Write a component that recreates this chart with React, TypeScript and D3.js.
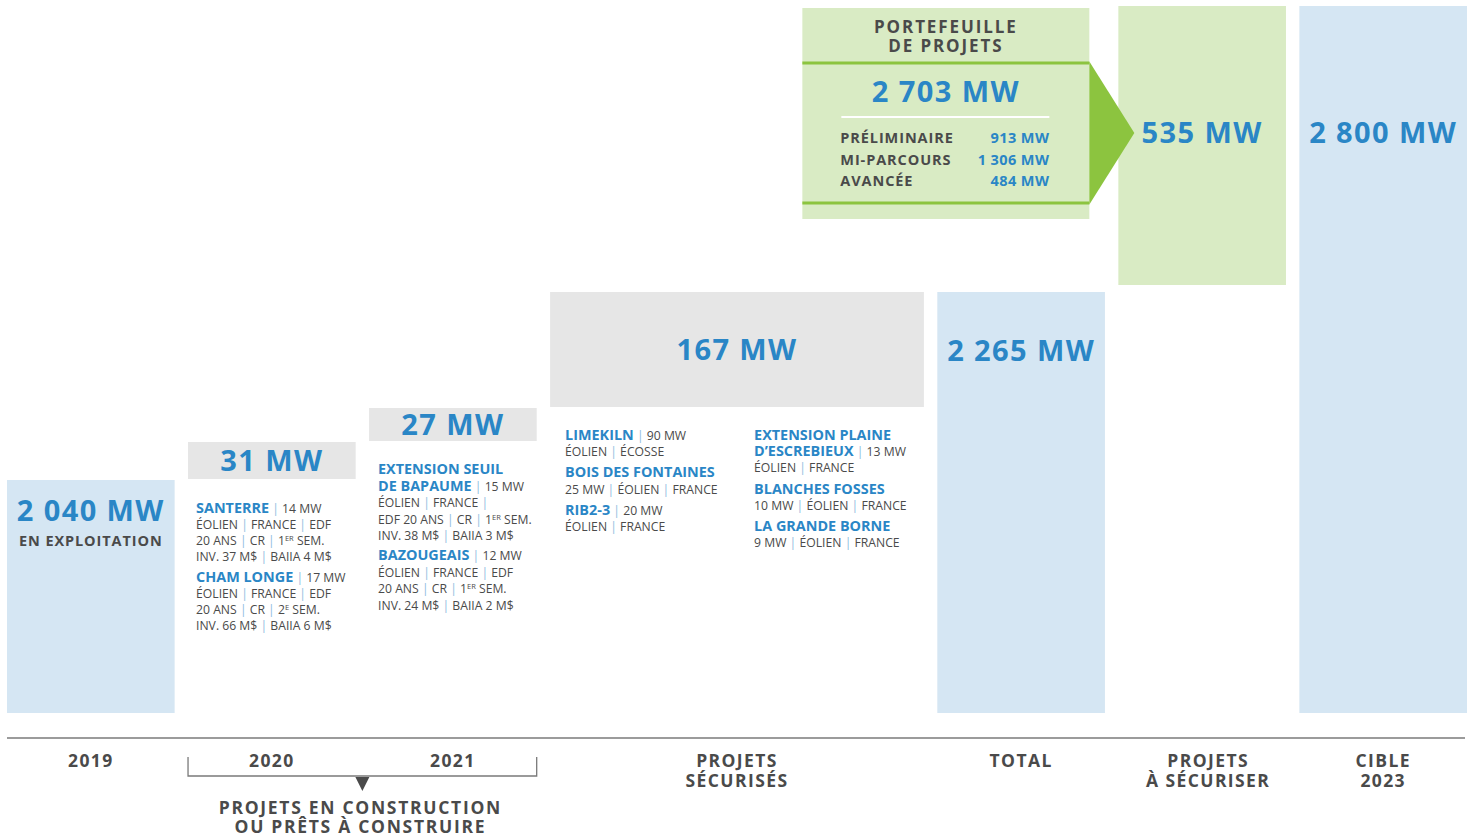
import React from 'react';
import * as d3 from 'd3';

// ---------- DATA ----------
const categories = ['2019', '2020', '2021', 'PROJETS SÉCURISÉS', 'TOTAL', 'PROJETS À SÉCURISER', 'CIBLE 2023'];
const axisLabels = [['2019'], ['2020'], ['2021'], ['PROJETS', 'SÉCURISÉS'], ['TOTAL'], ['PROJETS', 'À SÉCURISER'], ['CIBLE', '2023']];
const values = [2040, 31, 27, 167, 2265, 535, 2800];
const kinds = ['total', 'delta', 'delta', 'delta', 'total', 'future', 'total'];
const slotWidths = [1, 1, 1, 2.23, 1, 1, 1];
const subLabels = ['EN EXPLOITATION', '', '', '', '', '', ''];

const portfolioTitle = ['PORTEFEUILLE', 'DE PROJETS'];
const portfolioTotal = 2703;
const portfolioStages = ['PRÉLIMINAIRE', 'MI-PARCOURS', 'AVANCÉE'];
const portfolioValues = [913, 1306, 484];

const bracketLabel = ['PROJETS EN CONSTRUCTION', 'OU PRÊTS À CONSTRUIRE'];

type Seg = { t: string; k: 'name' | 'txt' | 'pipe' | 'sup' };
const p = (s: string): Seg[] => {
  const out: Seg[] = [];
  const re = /(\*\*[^*]+\*\*|\^[^^]+\^|\|)/g;
  let last = 0;
  let m;
  while ((m = re.exec(s))) {
    if (m.index > last) out.push({ t: s.slice(last, m.index), k: 'txt' });
    const tok = m[0];
    if (tok === '|') out.push({ t: '|', k: 'pipe' });
    else if (tok.startsWith('**')) out.push({ t: tok.slice(2, -2), k: 'name' });
    else out.push({ t: tok.slice(1, -1), k: 'sup' });
    last = m.index + tok.length;
  }
  if (last < s.length) out.push({ t: s.slice(last), k: 'txt' });
  return out;
};

const notes2020 = [
  ['**SANTERRE** | 14 MW', 'ÉOLIEN | FRANCE | EDF', '20 ANS | CR | 1^ER^ SEM.', 'INV. 37 M$ | BAIIA 4 M$'],
  ['**CHAM LONGE** | 17 MW', 'ÉOLIEN | FRANCE | EDF', '20 ANS | CR | 2^E^ SEM.', 'INV. 66 M$ | BAIIA 6 M$'],
];
const notes2021 = [
  ['**EXTENSION SEUIL**', '**DE BAPAUME** | 15 MW', 'ÉOLIEN | FRANCE |', 'EDF 20 ANS | CR | 1^ER^ SEM.', 'INV. 38 M$ | BAIIA 3 M$'],
  ['**BAZOUGEAIS** | 12 MW', 'ÉOLIEN | FRANCE | EDF', '20 ANS | CR | 1^ER^ SEM.', 'INV. 24 M$ | BAIIA 2 M$'],
];
const notesSecuredA = [
  ['**LIMEKILN** | 90 MW', 'ÉOLIEN | ÉCOSSE'],
  ['**BOIS DES FONTAINES**', '25 MW | ÉOLIEN | FRANCE'],
  ['**RIB2-3** | 20 MW', 'ÉOLIEN | FRANCE'],
];
const notesSecuredB = [
  ['**EXTENSION PLAINE**', '**D’ESCREBIEUX** | 13 MW', 'ÉOLIEN | FRANCE'],
  ['**BLANCHES FOSSES**', '10 MW | ÉOLIEN | FRANCE'],
  ['**LA GRANDE BORNE**', '9 MW | ÉOLIEN | FRANCE'],
];

// ---------- STYLE ----------
const W = 1473;
const H = 839;
const BLUE = '#2a86c6';
const DARK = '#4a4a4a';
const BAR_BLUE = '#d5e6f3';
const GRAY = '#e6e6e6';
const LIGHT_GREEN = '#d9ebc4';
const GREEN = '#8cc43f';
const FONT = '"Open Sans", "DejaVu Sans", sans-serif';

const fr = d3.formatLocale({ decimal: ',', thousands: '\u202F', grouping: [3], currency: ['', ''] });
const fmt = (v: number) => fr.format(',')(v).replace('\u202F', ' ') + ' MW';

export default function App() {
  const starts: number[] = [];
  const ends: number[] = [];
  let acc = 0;
  values.forEach((v, i) => {
    if (kinds[i] === 'total') {
      starts.push(0);
      ends.push(v);
      acc = v;
    } else {
      starts.push(acc);
      ends.push(acc + v);
      acc += v;
    }
  });

  // stylised (piecewise) value scale
  const y = d3
    .scaleLinear()
    .domain([0, values[0], values[0] + values[1], values[0] + values[1] + values[2], values[4], values[6]])
    .range([713, 480, 442, 408, 292, 6]);

  const gap = 0.08;
  const totalUnits = d3.sum(slotWidths) + gap * (slotWidths.length - 1);
  const xu = d3.scaleLinear().domain([0, totalUnits]).range([7, 1467]);
  const x0: number[] = [];
  let u = 0;
  slotWidths.forEach((w) => {
    x0.push(u);
    u += w + gap;
  });
  const bx = (i: number) => xu(x0[i]);
  const bw = (i: number) => xu(x0[i] + slotWidths[i]) - xu(x0[i]);
  const cx = (i: number) => bx(i) + bw(i) / 2;

  const renderLine = (s: string, key: string | number, xx: number, yy: number) => {
    const segs = p(s);
    return (
      <text key={key} x={xx} y={yy} fontFamily={FONT} fontSize={12.2} fill={DARK}>
        {segs.map((seg, j) => {
          if (seg.k === 'name')
            return (
              <tspan key={j} fill={BLUE} fontWeight={700} fontSize={14.4}>
                {seg.t}
              </tspan>
            );
          if (seg.k === 'pipe')
            return (
              <tspan key={j} fill="#8fbde0">
                {seg.t}
              </tspan>
            );
          if (seg.k === 'sup')
            return (
              <tspan key={j} fontSize={7.5} dy={-4}>
                {seg.t}
              </tspan>
            );
          const prev = j > 0 ? segs[j - 1] : null;
          return (
            <tspan key={j} dy={prev && prev.k === 'sup' ? 4 : 0}>
              {seg.t}
            </tspan>
          );
        })}
      </text>
    );
  };

  const renderNotes = (groups: string[][], xx: number, y0: number, lh: number, gg: number) => {
    const out: JSX.Element[] = [];
    let yy = y0;
    groups.forEach((g, gi) => {
      g.forEach((line, li) => {
        out.push(renderLine(line, `${gi}-${li}`, xx, yy));
        yy += lh;
      });
      yy += gg;
    });
    return out;
  };

  const pbRight = bx(5) - 29;
  const pbLeft = pbRight - 287;
  const pbTop = y(values[6]) + 2;
  const pbLine1 = 63;
  const pbLine2 = 203;
  const pbBottom = 219;
  const pbMid = (pbLeft + pbRight) / 2;
  const bracketMid = (bx(1) + bx(2) + bw(2)) / 2;

  return (
    <svg width={W} height={H} style={{ position: 'absolute', left: 0, top: 0, background: '#fff' }}>
      <rect x={0} y={0} width={W} height={H} fill="#fff" />
      {values.map((v, i) => {
        const top = y(ends[i]);
        const bottom = y(starts[i]) - (kinds[i] === 'total' ? 0 : kinds[i] === 'future' ? 7 : 1);
        const fill = kinds[i] === 'total' ? BAR_BLUE : kinds[i] === 'future' ? LIGHT_GREEN : GRAY;
        return <rect key={categories[i]} x={bx(i)} y={top} width={bw(i)} height={bottom - top} fill={fill} />;
      })}

      {values.map((v, i) => {
        let ly: number;
        if (kinds[i] === 'delta') ly = (y(ends[i]) + y(starts[i])) / 2 + 10;
        else if (i === 0) ly = y(ends[i]) + 41;
        else if (i === 4) ly = y(ends[i]) + 69;
        else ly = y(ends[i]) + 137;
        return (
          <text key={'v' + i} x={cx(i)} y={ly} textAnchor="middle" fontFamily={FONT} fontWeight={700} fontSize={29} letterSpacing={1.4} fill={BLUE}>
            {fmt(v)}
          </text>
        );
      })}
      {subLabels.map((s, i) =>
        s ? (
          <text key={'s' + i} x={cx(i)} y={y(ends[i]) + 66} textAnchor="middle" fontFamily={FONT} fontWeight={700} fontSize={14.5} letterSpacing={0.9} fill={DARK}>
            {s}
          </text>
        ) : null
      )}

      {renderNotes(notes2020, bx(1) + 8, 513, 16, 5)}
      {renderNotes(notes2021, bx(2) + 9, 474, 16.6, 3)}
      {renderNotes(notesSecuredA, bx(3) + 15, 440, 16.2, 5)}
      {renderNotes(notesSecuredB, bx(3) + 204, 440, 16.2, 5)}

      <rect x={pbLeft} y={pbTop} width={pbRight - pbLeft} height={pbBottom - pbTop} fill={LIGHT_GREEN} />
      <line x1={pbLeft} x2={pbRight} y1={pbLine1} y2={pbLine1} stroke={GREEN} strokeWidth={3} />
      <line x1={pbLeft} x2={pbRight} y1={pbLine2} y2={pbLine2} stroke={GREEN} strokeWidth={3} />
      <polygon points={`${pbRight},${pbLine1 - 1.5} ${pbRight + 45},${(pbLine1 + pbLine2) / 2} ${pbRight},${pbLine2 + 1.5}`} fill={GREEN} />
      {portfolioTitle.map((t, i) => (
        <text key={t} x={pbMid} y={33 + i * 19} textAnchor="middle" fontFamily={FONT} fontWeight={700} fontSize={17} letterSpacing={1.9} fill={DARK}>
          {t}
        </text>
      ))}
      <text x={pbMid} y={102} textAnchor="middle" fontFamily={FONT} fontWeight={700} fontSize={29} letterSpacing={1.4} fill={BLUE}>
        {fmt(portfolioTotal)}
      </text>
      <line x1={pbLeft + 39} x2={pbRight - 40} y1={117} y2={117} stroke="#fff" strokeWidth={2} />
      {portfolioStages.map((s, i) => (
        <g key={s}>
          <text x={pbLeft + 38} y={143 + i * 21.5} fontFamily={FONT} fontWeight={700} fontSize={14.5} letterSpacing={0.9} fill={DARK}>
            {s}
          </text>
          <text x={pbRight - 40} y={143 + i * 21.5} textAnchor="end" fontFamily={FONT} fontWeight={700} fontSize={14.5} letterSpacing={0.4} fill={BLUE}>
            {fmt(portfolioValues[i])}
          </text>
        </g>
      ))}

      <line x1={7} x2={1465} y1={738} y2={738} stroke="#7a7a7a" strokeWidth={1.5} />
      {axisLabels.map((lines, i) =>
        lines.map((l, j) => (
          <text key={i + '-' + j} x={cx(i) + (i === 5 ? 6 : 0)} y={767 + j * 20} textAnchor="middle" fontFamily={FONT} fontWeight={700} fontSize={17.5} letterSpacing={1.4} fill={DARK}>
            {l}
          </text>
        ))
      )}
      <path d={`M${bx(1)},757 V776 H${bx(2) + bw(2)} V757`} fill="none" stroke="#7a7a7a" strokeWidth={1.3} />
      <polygon points={`${bracketMid - 7},777 ${bracketMid + 7},777 ${bracketMid},791`} fill={DARK} />
      {bracketLabel.map((l, j) => (
        <text key={l} x={bracketMid - 2} y={814 + j * 19} textAnchor="middle" fontFamily={FONT} fontWeight={700} fontSize={17.5} letterSpacing={1.7} fill={DARK}>
          {l}
        </text>
      ))}
    </svg>
  );
}
